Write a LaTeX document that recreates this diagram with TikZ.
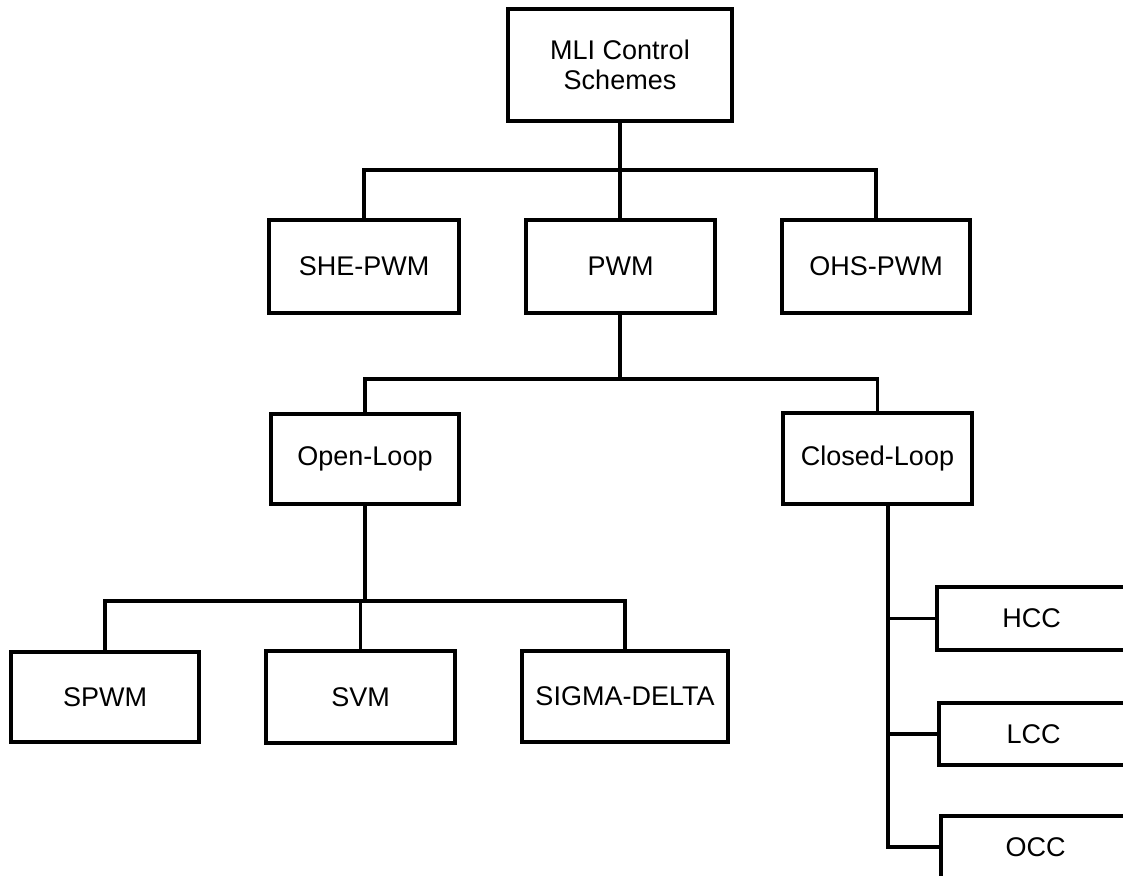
\documentclass[tikz,border=0pt]{standalone}
\usepackage{fontspec}
\setmainfont{Liberation Sans}
\begin{document}
\begin{tikzpicture}[x=1pt,y=-1pt,
  box/.style={draw=black, line width=3.2pt, fill=white, inner sep=0pt, outer sep=0pt, align=center,
    font=\fontsize{27}{30}\selectfont},
  conn/.style={draw=black, line width=3.2pt, line cap=rect}]
\useasboundingbox (0,0) rectangle (1123,875);
\clip (0,0) rectangle (1123,875);
% nodes
\node[box, minimum width=224pt, minimum height=112pt] (mli) at (620,65) {MLI Control\\Schemes};
\node[box, minimum width=190pt, minimum height=93pt] (she) at (364,266.5) {SHE-PWM};
\node[box, minimum width=189pt, minimum height=93pt] (pwm) at (620.5,266.5) {PWM};
\node[box, minimum width=188pt, minimum height=93pt] (ohs) at (876,266.5) {OHS-PWM};
\node[box, minimum width=188pt, minimum height=90pt] (open) at (365,459) {Open-Loop};
\node[box, minimum width=189pt, minimum height=91pt] (closed) at (877.5,458.5) {Closed-Loop};
\node[box, minimum width=188pt, minimum height=90pt] (spwm) at (105,697) {SPWM};
\node[box, minimum width=189pt, minimum height=92pt] (svm) at (360.5,697) {SVM};
\node[box, minimum width=206pt, minimum height=91pt] (sigma) at (625,696.5) {SIGMA-DELTA};
\node[box, minimum width=189pt, minimum height=63pt] (hcc) at (1031.5,618.5) {HCC};
\node[box, minimum width=189pt, minimum height=62pt] (lcc) at (1033.5,734) {LCC};
\node[box, minimum width=189pt, minimum height=62pt] (occ) at (1035.5,847) {OCC};
% junctions
\coordinate (j1) at (620,170);
\coordinate (j2) at (620,379);
\coordinate (j3) at (365,601);
\coordinate (sp) at (888,847);
% connectors
\draw[conn] (mli.south -| j1) -- (j1);
\draw[conn] (she.north) |- (j1) -| (ohs.north);
\draw[conn] (j1) -- (j1 |- pwm.north);
\draw[conn] (pwm.south -| j2) -- (j2);
\draw[conn] (open.north) |- (j2) -| (closed.north);
\draw[conn] (open.south) -- (j3);
\draw[conn] (spwm.north) |- (j3) -| (sigma.north);
\draw[conn] (svm.north |- j3) -- (svm.north);
\draw[conn] (closed.south -| sp) -- (sp);
\draw[conn] (sp |- hcc.west) -- (hcc.west);
\draw[conn] (sp |- lcc.west) -- (lcc.west);
\draw[conn] (sp) -- (occ.west);
\end{tikzpicture}
\end{document}
